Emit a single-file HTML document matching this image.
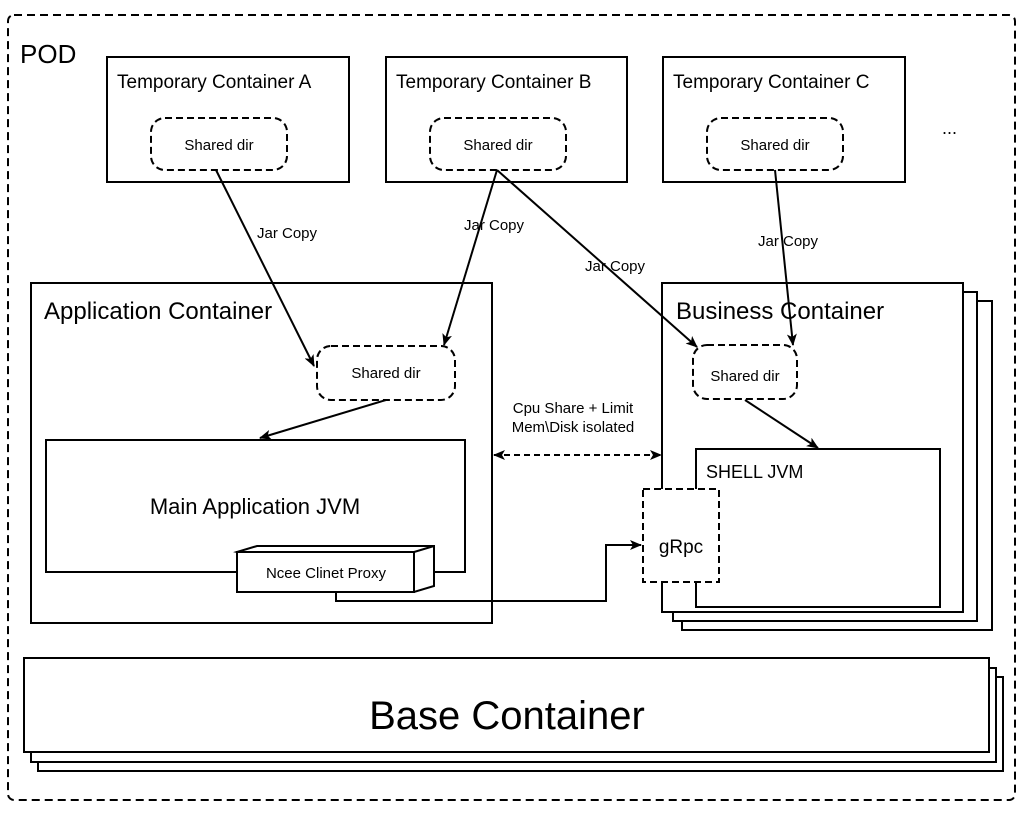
<!DOCTYPE html>
<html><head><meta charset="utf-8"><style>body{margin:0;background:#fff}svg{display:block}text{font-family:"Liberation Sans",sans-serif;fill:#000}</style></head><body>
<svg width="1028" height="816" viewBox="0 0 1028 816" xmlns="http://www.w3.org/2000/svg">
<defs><marker id="a" markerWidth="12" markerHeight="10" refX="11" refY="5" orient="auto" markerUnits="userSpaceOnUse"><path d="M0,0 L12,5 L0,10 L3,5 z" fill="#000"/></marker>
<marker id="b" markerWidth="12" markerHeight="10" refX="1" refY="5" orient="auto" markerUnits="userSpaceOnUse"><path d="M12,0 L0,5 L12,10 L9,5 z" fill="#000"/></marker></defs>
<g fill="#fff" stroke="#000" stroke-width="2">
<rect x="8" y="15" width="1007" height="785" rx="6" stroke-dasharray="8,5"/>
<rect x="107" y="57" width="242" height="125"/>
<rect x="386" y="57" width="241" height="125"/>
<rect x="663" y="57" width="242" height="125"/>
<rect x="38" y="677" width="965" height="94"/>
<rect x="31" y="668" width="965" height="94"/>
<rect x="24" y="658" width="965" height="94"/>
<rect x="682" y="301" width="310" height="329"/>
<rect x="673" y="292" width="304" height="329"/>
<rect x="662" y="283" width="301" height="329"/>
<rect x="696" y="449" width="244" height="158"/>
<rect x="31" y="283" width="461" height="340"/>
<rect x="46" y="440" width="419" height="132"/>
<g stroke-dasharray="7,4">
<rect x="151" y="118" width="136" height="52" rx="14"/>
<rect x="430" y="118" width="136" height="52" rx="14"/>
<rect x="707" y="118" width="136" height="52" rx="14"/>
<rect x="317" y="346" width="138" height="54" rx="14"/>
<rect x="693" y="345" width="104" height="54" rx="14"/>
<rect x="643" y="489" width="76" height="93"/>
</g>
<path d="M237,552 L257,546 L434,546 L434,586 L414,592 Z M414,592 L414,552 L434,546"/>
<rect x="237" y="552" width="177" height="40"/>
</g>
<g fill="none" stroke="#000" stroke-width="2">
<path d="M216,170 L314,366" marker-end="url(#a)"/>
<path d="M497,170 L444,345" marker-end="url(#a)"/>
<path d="M497,170 L697,347" marker-end="url(#a)"/>
<path d="M775,170 L793,345" marker-end="url(#a)"/>
<path d="M386,400 L260,438" marker-end="url(#a)"/>
<path d="M745,400 L818,448" marker-end="url(#a)"/>
<path d="M336,592 L336,601 L606,601 L606,545 L641,545" marker-end="url(#a)"/>
<path d="M494,455 L661,455" stroke-dasharray="6,4" marker-end="url(#a)" marker-start="url(#b)"/>
</g>
<g font-size="15" text-anchor="middle">
<text x="287" y="238">Jar Copy</text>
<text x="494" y="230">Jar Copy</text>
<text x="615" y="271">Jar Copy</text>
<text x="788" y="246">Jar Copy</text>
<text x="219" y="150">Shared dir</text><text x="498" y="150">Shared dir</text><text x="775" y="150">Shared dir</text>
<text x="386" y="378">Shared dir</text><text x="745" y="381">Shared dir</text>
<text x="573" y="413">Cpu Share + Limit</text><text x="573" y="432">Mem\Disk isolated</text>
<text x="326" y="578">Ncee Clinet Proxy</text>
<text x="681" y="553" font-size="19">gRpc</text>
<text x="255" y="514" font-size="22">Main Application JVM</text>
<text x="507" y="729" font-size="40">Base Container</text>
</g>
<g font-size="19">
<text x="117" y="88">Temporary Container A</text>
<text x="396" y="88">Temporary Container B</text>
<text x="673" y="88">Temporary Container C</text>
<text x="706" y="478" font-size="18">SHELL JVM</text>
</g>
<text x="44" y="319" font-size="24">Application Container</text>
<text x="676" y="319" font-size="24">Business Container</text>
<text x="20" y="63" font-size="26">POD</text>
<text x="942" y="134" font-size="18">...</text>
</svg>
</body></html>
